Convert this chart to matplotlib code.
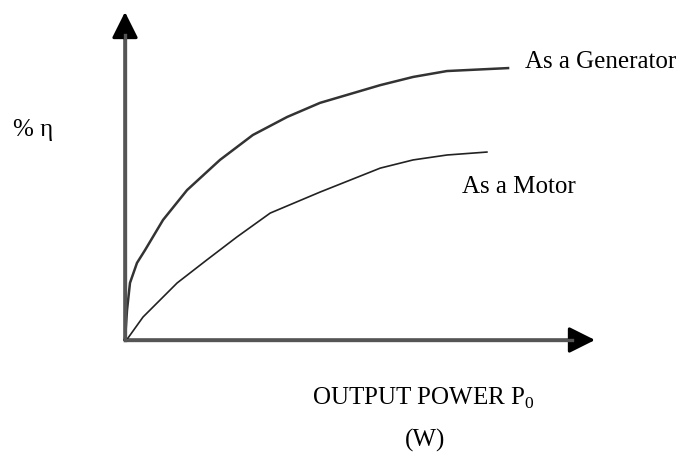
import matplotlib.pyplot as plt

# efficiency curves (x and y in % of axis length)
gen_power = [0, 0.43, 1.06, 2.55, 4.26, 8.09, 13.2, 20.2, 27.2, 34.5, 41.5, 54.3, 61.3, 68.5, 81.5]
gen_eff = [0, 9.1, 17.4, 23.5, 27.4, 36.6, 45.7, 54.9, 62.5, 68.0, 72.3, 77.7, 80.2, 82.0, 82.9]

motor_power = [0, 0.64, 3.83, 11.1, 17.4, 23.8, 30.9, 41.5, 54.3, 61.3, 68.5, 77.0]
motor_eff = [0, 0.61, 7.0, 17.4, 24.4, 31.4, 38.7, 45.1, 52.4, 54.9, 56.4, 57.3]

plt.rcParams['font.family'] = ['Liberation Serif', 'DejaVu Serif']
plt.rcParams['mathtext.fontset'] = 'custom'
plt.rcParams['mathtext.rm'] = 'Liberation Serif'

W, H = 689, 459
fig = plt.figure(figsize=(W / 100, H / 100), dpi=100)

# axes origin at pixel (125, 340), arrow tips at (595, 340) and (125, 12)
ax = fig.add_axes([125 / W, (H - 340) / H, 470 / W, 328 / H])
ax.set_xlim(0, 100)
ax.set_ylim(0, 100)
ax.axis('off')

arrow = dict(arrowstyle='-|>,head_length=0.8,head_width=0.4', mutation_scale=20,
             color='black', lw=2.2, shrinkA=0, shrinkB=0)
ax.annotate('', xy=(100, 0), xytext=(0, 0), arrowprops=arrow, annotation_clip=False)
ax.annotate('', xy=(0, 100), xytext=(0, 0), arrowprops=arrow, annotation_clip=False)
# make the shafts look grey like the original
ax.plot([0, 95], [0, 0], color='#555555', lw=2.4, clip_on=False, zorder=3)
ax.plot([0, 0], [0, 93], color='#555555', lw=2.4, clip_on=False, zorder=3)

ax.plot(gen_power, gen_eff, color='#333333', lw=1.8, clip_on=False)
ax.plot(motor_power, motor_eff, color='#222222', lw=1.2, clip_on=False)

def px_text(x, y, s, **kw):
    fig.text(x / W, 1 - y / H, s, fontsize=18, color='black', **kw)

px_text(525, 62, 'As a Generator', ha='left', va='center')
px_text(462, 187, 'As a Motor', ha='left', va='center')
px_text(13, 130, '% η', ha='left', va='center')
px_text(312, 405, r'OUTPUT POWER P$_\mathrm{0}$', ha='left', va='baseline')
px_text(425, 440, '(W)', ha='center', va='center')

fig.savefig('out.png', dpi=100)
